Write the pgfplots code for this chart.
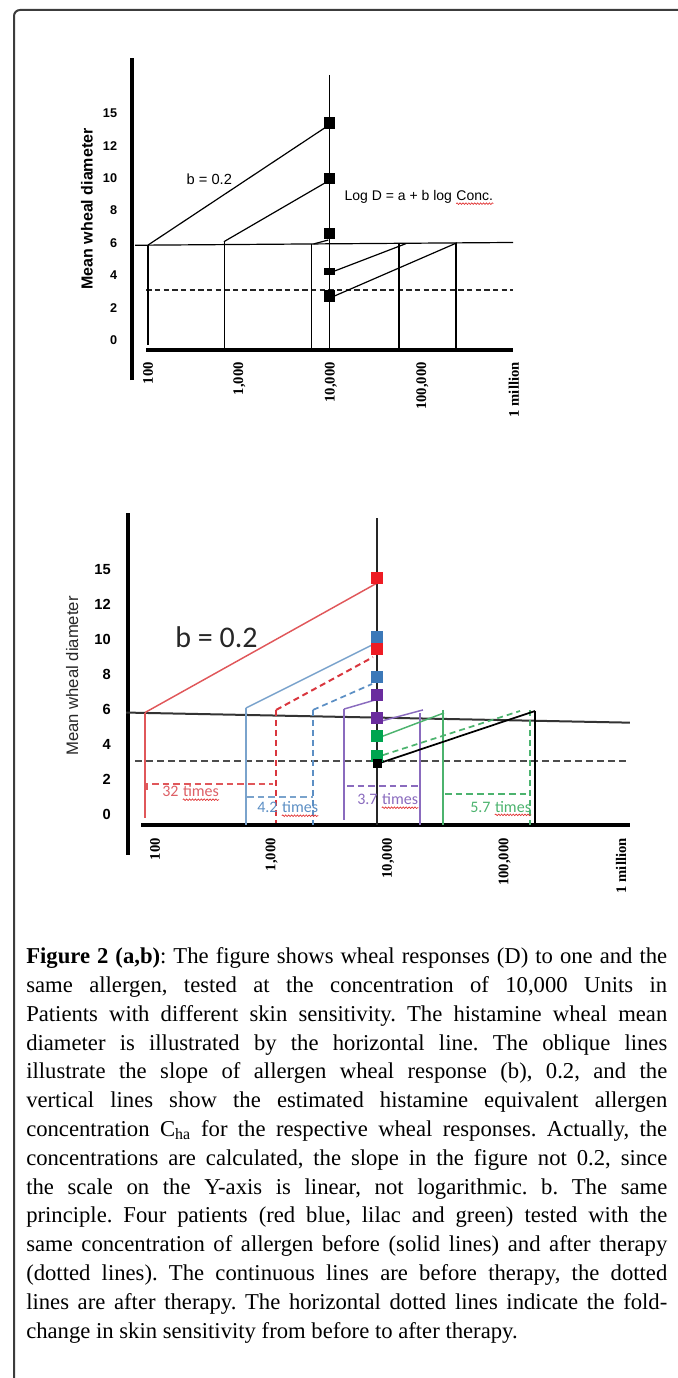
\documentclass[border=0pt]{standalone}
\usepackage{pgfplots}
\pgfplotsset{compat=1.18}
\usepackage{fontspec}
\setmainfont{Liberation Serif}
\newfontfamily\arialf{Liberation Sans}
\newfontfamily\calf{Carlito}
\usetikzlibrary{decorations.pathmorphing}
\definecolor{redA}{HTML}{E0575A}
\definecolor{redD}{HTML}{EE1C24}
\definecolor{redDash}{HTML}{D9363E}
\definecolor{redT}{HTML}{DD6066}
\definecolor{blueL}{HTML}{7AA3CC}
\definecolor{blueD}{HTML}{3B78B8}
\definecolor{blueDash}{HTML}{5C8FC4}
\definecolor{purpL}{HTML}{8A6BBE}
\definecolor{purpD}{HTML}{6A2C9E}
\definecolor{greenL}{HTML}{4CB36E}
\definecolor{greenD}{HTML}{00A550}
\definecolor{framec}{HTML}{3C3C3C}
\definecolor{wavy}{HTML}{E03030}
\tikzset{wave/.style={wavy, line width=0.5pt, decorate, decoration={snake, amplitude=0.6pt, segment length=2.2pt}}}
\begin{document}
\begin{tikzpicture}
\path[use as bounding box] (0pt,0pt) rectangle (508.5pt,1033.5pt);
\draw[framec, line width=1.5pt, rounded corners=4.5pt] (10.5pt,-5pt) -- (10.5pt,1026pt) -- (520pt,1026pt);

% ---------------- chart (a) ----------------
\begin{axis}[
 at={(99pt,771pt)}, anchor=south west,
 scale only axis, width=291pt, height=219pt,
 xmin=1.825, xmax=6.066, ymin=-0.617, ymax=17.41,
 axis x line=bottom, axis y line=left, axis line style={draw=none,-},
 major tick length=0pt,
 xtick={2,3,4,5,6}, xticklabels={100,{1,000},{10,000},{100,000},1 million},
 ytick={0,2,4,6,8,10,12,14}, yticklabels={0,2,4,6,8,10,12,15},
 xticklabel style={rotate=90, anchor=east, inner sep=0pt, font=\fontsize{11}{12}\selectfont\bfseries},
 xticklabel shift=9pt,
 yticklabel style={anchor=east, inner sep=0pt, font=\arialf\bfseries\fontsize{9.5}{11}\selectfont},
 yticklabel shift=11pt,
 clip=false,
]
\addplot[black, line width=3pt] coordinates {(1.825,-2.47) (1.825,17.41)};
\addplot[black, line width=3.2pt] coordinates {(1.978,-0.617) (5.99,-0.617)};
\addplot[black, line width=0.9pt] coordinates {(1.86,5.85) (5.99,6.02)};
\addplot[black!85, line width=1pt, dash pattern=on 4pt off 2.5pt] coordinates {(1.98,3.09) (5.99,3.09)};
\addplot[black, line width=0.9pt] coordinates {(3.98,16.36) (3.98,-0.617)};
% oblique lines
\addplot[black, line width=0.9pt] coordinates {(2.0,5.86) (3.96,13.2)};
\addplot[black, line width=0.9pt] coordinates {(2.83,6.07) (3.96,9.78)};
\addplot[black, line width=0.9pt] coordinates {(3.81,5.93) (3.97,6.17)};
\addplot[black, line width=0.9pt] coordinates {(4.04,4.26) (4.82,5.95)};
\addplot[black, line width=0.9pt] coordinates {(4.04,2.72) (5.377,6.0)};
% verticals
\addplot[black, line width=0.9pt] coordinates {(2.0,5.86) (2.0,-0.3)};
\addplot[black, line width=0.9pt] coordinates {(2.84,6.1) (2.84,-0.5)};
\addplot[black, line width=0.9pt] coordinates {(3.79,5.93) (3.79,-0.5)};
\addplot[black, line width=0.9pt] coordinates {(4.743,5.95) (4.743,-0.5)};
\addplot[black, line width=0.9pt] coordinates {(5.366,6.0) (5.366,-0.5)};
% dots
\addplot[only marks, mark=square*, mark size=3.9pt, mark options={black, rounded corners=1pt}] coordinates {(3.98,13.4) (3.98,9.98) (3.98,6.6) (3.98,2.72)};
\addplot[only marks, mark=square*, mark size=3.9pt, mark options={black, rounded corners=1pt, yscale=0.6}] coordinates {(3.98,4.26)};
\node[font=\arialf\fontsize{11}{12}\selectfont] at (axis cs:2.67,9.9) {b = 0.2};
\node[anchor=west, inner sep=0pt, font=\arialf\fontsize{10.5}{12}\selectfont] (lg) at (axis cs:4.146,8.83) {Log D = a + b log\kern0.28em};
\node[anchor=base west, inner sep=0pt, font=\arialf\fontsize{10.5}{12}\selectfont] (cc) at (lg.base east) {Conc.};
\draw[wave] ([yshift=-2pt]cc.south west) -- ([yshift=-2pt]cc.south east);
\node[rotate=90, font=\arialf\bfseries\fontsize{12}{14}\selectfont] at (rel axis cs:-0.116,0.483) {Mean wheal diameter};
\end{axis}

% ---------------- chart (b) ----------------
\begin{axis}[
 at={(96pt,414.75pt)}, anchor=south west,
 scale only axis, width=378pt, height=234pt,
 xmin=1.768, xmax=6.0944, ymin=-0.631, ymax=17.27,
 axis x line=bottom, axis y line=left, axis line style={draw=none,-},
 major tick length=0pt,
 xtick={2,3,4,5,6}, xticklabels={100,{1,000},{10,000},{100,000},1 million},
 ytick={0,2,4,6,8,10,12,14}, yticklabels={0,2,4,6,8,10,12,15},
 xticklabel style={rotate=90, anchor=east, inner sep=0pt, font=\fontsize{11}{12}\selectfont\bfseries},
 xticklabel shift=9.75pt,
 yticklabel style={anchor=east, inner sep=0pt, font=\arialf\bfseries\fontsize{11}{13}\selectfont},
 yticklabel shift=12.75pt,
 clip=false,
]
\addplot[black, line width=3pt] coordinates {(1.768,-2.35) (1.768,17.27)};
\addplot[black, line width=3.4pt] coordinates {(1.88,-0.631) (6.077,-0.631)};
\addplot[black!80, line width=1.5pt] coordinates {(1.751,5.82) (6.077,5.24)};
\addplot[black!70, line width=1.5pt, dash pattern=on 5.25pt off 3pt] coordinates {(1.83,3.04) (6.077,3.04)};
\addplot[black!85, line width=1.1pt] coordinates {(3.906,16.98) (3.906,-0.631)};
% red patient
\addplot[redA, line width=1.1pt] coordinates {(1.914,5.82) (3.906,13.25)};
\addplot[redA, line width=1.1pt] coordinates {(1.914,5.82) (1.914,-0.23)};
\addplot[redDash, line width=1.5pt, dash pattern=on 4.5pt off 3pt] coordinates {(3.039,5.97) (3.871,9.0)};
\addplot[redDash, line width=1.5pt, dash pattern=on 4.5pt off 3pt] coordinates {(3.039,5.97) (3.039,-0.5)};
% blue patient
\addplot[blueL, line width=1.1pt] coordinates {(2.781,6.08) (3.863,9.70)};
\addplot[blueL, line width=1.1pt] coordinates {(2.781,6.08) (2.781,-0.631)};
\addplot[blueDash, line width=1.3pt, dash pattern=on 4.5pt off 3pt] coordinates {(3.356,5.97) (3.863,7.46)};
\addplot[blueDash, line width=1.3pt, dash pattern=on 4.5pt off 3pt] coordinates {(3.356,5.97) (3.356,-0.631)};
% purple patient
\addplot[purpL, line width=1.1pt] coordinates {(3.622,6.02) (3.888,6.54)};
\addplot[purpL, line width=1.1pt] coordinates {(3.622,6.02) (3.622,-0.34)};
\addplot[purpL, line width=1.1pt] coordinates {(3.948,5.34) (4.30,5.97)};
\addplot[purpL, line width=1.1pt] coordinates {(4.275,5.8) (4.275,-0.631)};
% green patient
\addplot[greenL, line width=1.1pt] coordinates {(3.957,4.47) (4.481,5.8)};
\addplot[greenL, line width=1.1pt] coordinates {(4.472,5.97) (4.472,-0.631)};
\addplot[greenL, line width=1.3pt, dash pattern=on 4.5pt off 3pt] coordinates {(3.957,3.38) (5.133,5.91)};
\addplot[greenL, line width=1.3pt, dash pattern=on 4.5pt off 3pt] coordinates {(5.219,5.97) (5.219,-0.631)};
% black
\addplot[black, line width=1.3pt] coordinates {(3.906,2.87) (5.262,5.91)};
\addplot[black, line width=1.3pt] coordinates {(5.262,5.91) (5.262,-0.631)};
% fold-change dashed lines
\addplot[redA, line width=1.1pt, dash pattern=on 5pt off 3pt] coordinates {(1.931,1.4) (1.931,1.72) (3.013,1.72)};
\addplot[blueL, line width=1.1pt, dash pattern=on 5pt off 3pt] coordinates {(2.79,0.975) (3.356,0.975)};
\addplot[purpL, line width=1.1pt, dash pattern=on 5pt off 3pt] coordinates {(3.648,1.61) (4.275,1.61)};
\addplot[greenL, line width=1.1pt, dash pattern=on 5pt off 3pt] coordinates {(4.489,1.15) (5.219,1.15)};
% dots
\addplot[only marks, mark=square*, mark size=4pt, mark options={redD, rounded corners=1pt}] coordinates {(3.906,13.54) (3.906,9.47)};
\addplot[only marks, mark=square*, mark size=4pt, mark options={blueD, rounded corners=1pt}] coordinates {(3.906,10.15) (3.906,7.86)};
\addplot[only marks, mark=square*, mark size=4pt, mark options={purpD, rounded corners=1pt}] coordinates {(3.906,6.83) (3.906,5.54)};
\addplot[only marks, mark=square*, mark size=4pt, mark options={greenD, rounded corners=1pt}] coordinates {(3.906,4.47) (3.906,3.33)};
\addplot[only marks, mark=square*, mark size=3pt, mark options={black, rounded corners=1pt}] coordinates {(3.906,2.93)};
% texts
\node[anchor=base west, inner sep=0pt, font=\calf\fontsize{22.5}{26}\selectfont, text=black!85] at (axis cs:2.172,9.58) {b = 0.2};
\node[anchor=base west, inner sep=0pt, font=\calf\fontsize{12}{14}\selectfont, text=redT] (r1) at (axis cs:2.06,0.98) {32\kern0.25em};
\node[anchor=base west, inner sep=0pt, font=\calf\fontsize{12}{14}\selectfont, text=redT] (r2) at (r1.base east) {times};
\node[anchor=base west, inner sep=0pt, font=\calf\fontsize{12}{14}\selectfont, text=blueDash] (b1) at (axis cs:2.876,0.06) {4.2\kern0.25em};
\node[anchor=base west, inner sep=0pt, font=\calf\fontsize{12}{14}\selectfont, text=blueDash] (b2) at (b1.base east) {times};
\node[anchor=base west, inner sep=0pt, font=\calf\fontsize{12}{14}\selectfont, text=purpL] (p1) at (axis cs:3.734,0.52) {3.7\kern0.25em};
\node[anchor=base west, inner sep=0pt, font=\calf\fontsize{12}{14}\selectfont, text=purpL] (p2) at (p1.base east) {times};
\node[anchor=base west, inner sep=0pt, font=\calf\fontsize{12}{14}\selectfont, text=greenL] (g1) at (axis cs:4.704,0.11) {5.7\kern0.25em};
\node[anchor=base west, inner sep=0pt, font=\calf\fontsize{12}{14}\selectfont, text=greenL] (g2) at (g1.base east) {times};
\draw[wave] ([yshift=-1.8pt]r2.south west) -- ([yshift=-1.8pt]r2.south east);
\draw[wave] ([yshift=-1.8pt]b2.south west) -- ([yshift=-1.8pt]b2.south east);
\draw[wave] ([yshift=-1.8pt]p2.south west) -- ([yshift=-1.8pt]p2.south east);
\draw[wave] ([yshift=-1.8pt]g2.south west) -- ([yshift=-1.8pt]g2.south east);
\node[rotate=90, font=\arialf\fontsize{12.5}{14}\selectfont, text=black!85] at (rel axis cs:-0.111,0.4776) {Mean wheal diameter};
\end{axis}

% ---------------- caption ----------------
\node[anchor=north west, inner sep=0pt, text width=480.75pt, align=justify, font=\fontsize{17}{21.6}\selectfont] at (19.5pt,322.9pt) {\tolerance=10000\hbadness=10000\parindent=0pt\frenchspacing
\textbf{Figure 2 (a,b)}: The figure shows wheal responses (D) to one and the\linebreak
same allergen, tested at the concentration of 10,000 Units in\linebreak
Patients with different skin sensitivity. The histamine wheal mean\linebreak
diameter is illustrated by the horizontal line. The oblique lines\linebreak
illustrate the slope of allergen wheal response (b), 0.2, and the\linebreak
vertical lines show the estimated histamine equivalent allergen\linebreak
concentration C\textsubscript{ha} for the respective wheal responses. Actually, the\linebreak
concentrations are calculated, the slope in the figure not 0.2, since\linebreak
the scale on the Y-axis is linear, not logarithmic. b. The same\linebreak
principle. Four patients (red blue, lilac and green) tested with the\linebreak
same concentration of allergen before (solid lines) and after therapy\linebreak
(dotted lines). The continuous lines are before therapy, the dotted\linebreak
lines are after therapy. The horizontal dotted lines indicate the fold-\linebreak
change in skin sensitivity from before to after therapy.\par};
\end{tikzpicture}
\end{document}
